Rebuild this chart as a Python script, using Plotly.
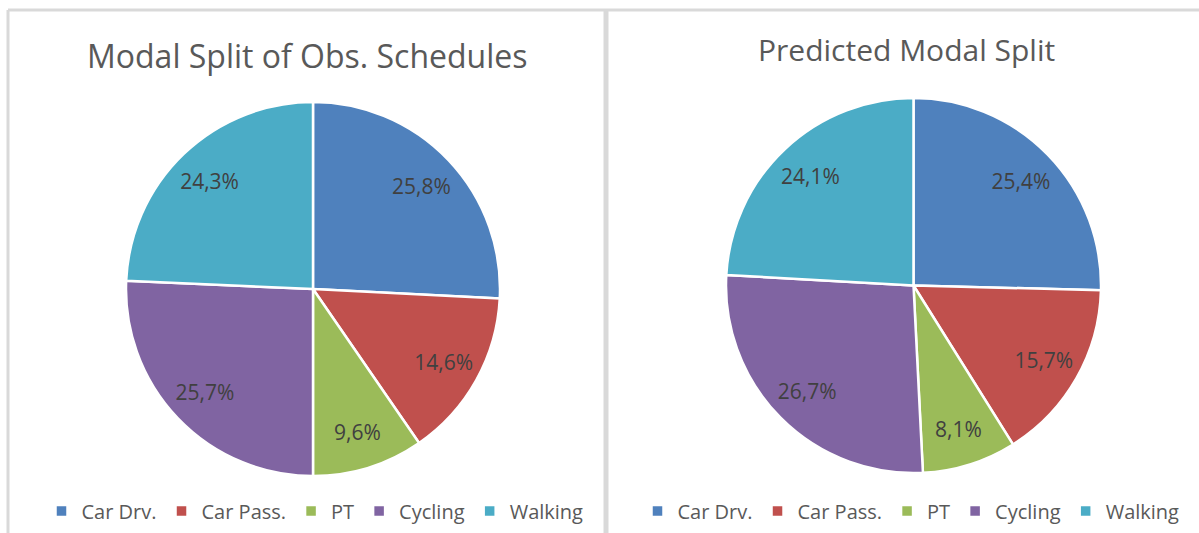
import plotly.graph_objects as go

categories = ["Car Drv.", "Car Pass.", "PT", "Cycling", "Walking"]
observed = [25.8, 14.6, 9.6, 25.7, 24.3]
predicted = [25.4, 15.7, 8.1, 26.7, 24.1]
titles = ["Modal Split of Obs. Schedules", "Predicted Modal Split"]
colors = ["#4F81BD", "#C0504D", "#9BBB59", "#8064A2", "#4BACC6"]

W, H = 1199, 533
FONT = "Open Sans"
GRAY = "#595959"


def fmt(vals):
    return [f"{v:.1f}".replace(".", ",") + "%" for v in vals]


def pie_traces(vals, domain, legend, suffix):
    labels = [c + suffix for c in categories]
    base = go.Pie(
        labels=labels,
        values=vals,
        textinfo="none",
        marker=dict(colors=colors, line=dict(color="white", width=2.5)),
        sort=False,
        direction="clockwise",
        rotation=0,
        domain=domain,
        legend=legend,
        showlegend=True,
        hoverinfo="label+percent",
    )
    # transparent ring used only to place the percentage labels
    ring = go.Pie(
        labels=labels,
        values=vals,
        text=fmt(vals),
        texttemplate="%{text}",
        textposition="inside",
        insidetextorientation="horizontal",
        textfont=dict(family=FONT, size=21, color="#404040"),
        marker=dict(colors=["rgba(0,0,0,0)"] * len(vals), line=dict(width=0)),
        hole=0.6,
        sort=False,
        direction="clockwise",
        rotation=0,
        domain=domain,
        showlegend=False,
        hoverinfo="skip",
    )
    return [base, ring]


fig = go.Figure()
for t in pie_traces(observed, dict(x=[126 / W, 500 / W], y=[(533 - 476) / H, (533 - 102) / H]), "legend", ""):
    fig.add_trace(t)
for t in pie_traces(predicted, dict(x=[726 / W, 1101 / W], y=[(533 - 473) / H, (533 - 98) / H]), "legend2", "\u200b"):
    fig.add_trace(t)

legend_common = dict(
    orientation="h",
    xanchor="center",
    yanchor="middle",
    font=dict(family=FONT, size=20, color=GRAY),
    bgcolor="rgba(0,0,0,0)",
    itemclick=False,
    itemdoubleclick=False,
)

fig.update_layout(
    width=W,
    height=H,
    margin=dict(l=0, r=0, t=0, b=0),
    paper_bgcolor="white",
    plot_bgcolor="white",
    legend=dict(x=315 / W, y=1 - 511 / H, **legend_common),
    legend2=dict(x=911 / W, y=1 - 511 / H, **legend_common),
    annotations=[
        dict(text=titles[0], x=307 / W, y=1 - 55 / H, xref="paper", yref="paper",
             showarrow=False, xanchor="center", yanchor="middle",
             font=dict(family=FONT, size=32, color=GRAY)),
        dict(text=titles[1], x=906 / W, y=1 - 50 / H, xref="paper", yref="paper",
             showarrow=False, xanchor="center", yanchor="middle",
             font=dict(family=FONT, size=30, color=GRAY)),
    ],
    shapes=[
        dict(type="line", xref="paper", yref="paper", x0=8 / W, x1=1, y0=1 - 10 / H, y1=1 - 10 / H,
             line=dict(color="#D9D9D9", width=3)),
        dict(type="line", xref="paper", yref="paper", x0=8 / W, x1=8 / W, y0=0, y1=1 - 10 / H,
             line=dict(color="#D9D9D9", width=3)),
        dict(type="line", xref="paper", yref="paper", x0=606 / W, x1=606 / W, y0=0, y1=1 - 10 / H,
             line=dict(color="#D9D9D9", width=5)),
    ],
)

fig.write_html(
    "out.html",
    config={"displayModeBar": False},
    post_script="document.body.style.margin='0px';document.body.style.overflow='hidden';",
)
